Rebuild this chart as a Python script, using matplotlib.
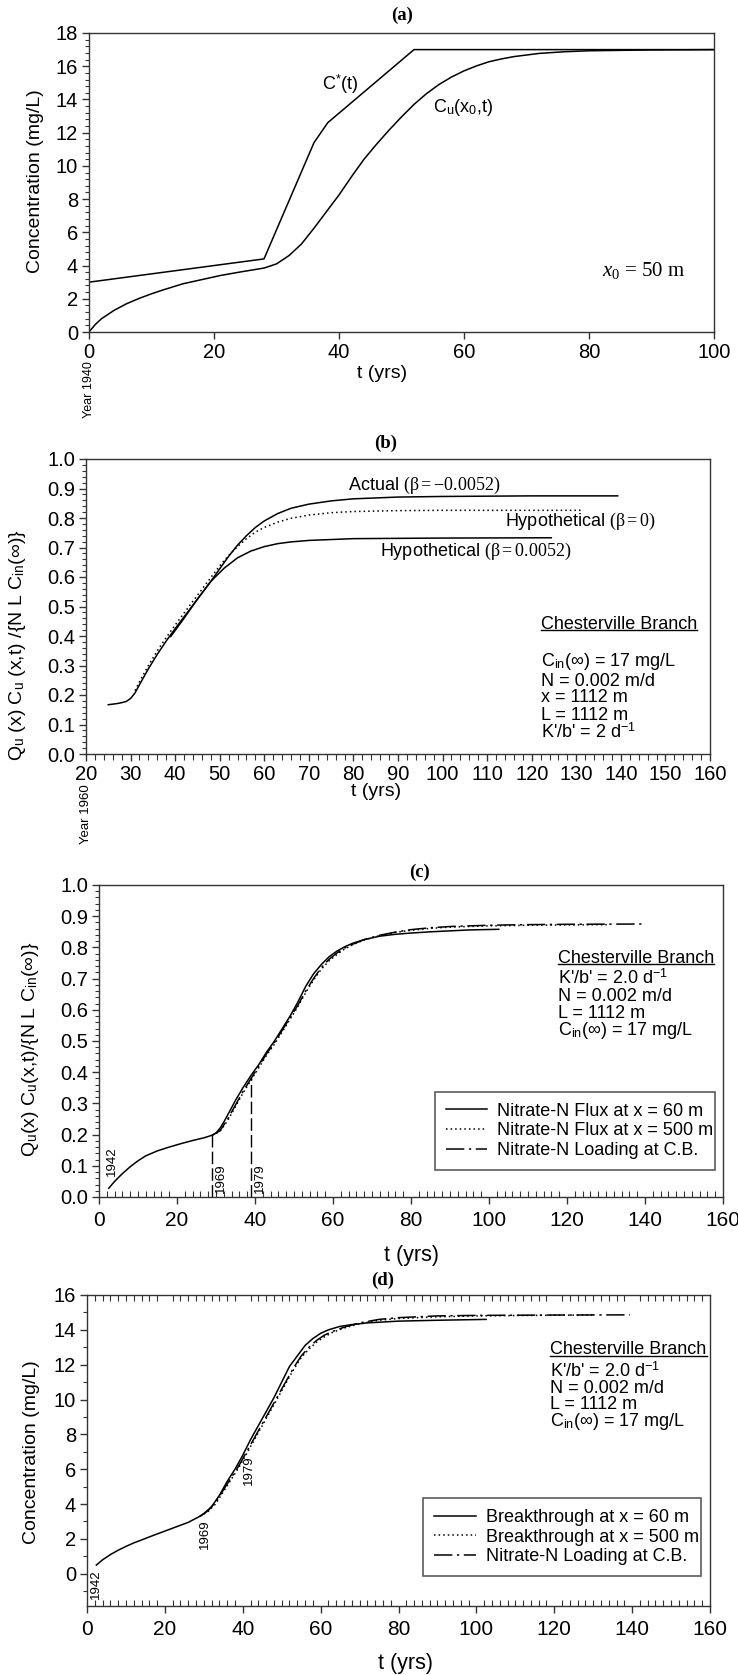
import matplotlib
matplotlib.use('Agg')
import matplotlib.pyplot as plt
from matplotlib.ticker import MultipleLocator
from matplotlib.lines import Line2D

NARROW = ['Liberation Sans Narrow', 'Liberation Sans', 'DejaVu Sans']
SANS = ['Liberation Sans', 'DejaVu Sans']
SERIF = ['Liberation Serif', 'DejaVu Serif']

plt.rcParams['font.family'] = NARROW
plt.rcParams['mathtext.fontset'] = 'custom'
plt.rcParams['mathtext.rm'] = 'Liberation Serif'
plt.rcParams['mathtext.it'] = 'Liberation Serif:italic'
plt.rcParams['mathtext.bf'] = 'Liberation Serif:bold'

# ---- panel (a) : concentration at x0 = 50 m
a_t_cstar = [0, 28, 36, 38.2, 52, 100]
a_cstar = [3.0, 4.4, 11.4, 12.6, 17.0, 17.0]
a_t_cu = [0, 1, 2, 4, 6, 8, 10, 12, 15, 18, 21, 24, 28, 30, 32, 34, 36, 38, 40, 42, 44,
          46, 48, 50, 52, 54, 56, 58, 60, 62, 64, 66, 68, 72, 76, 80, 90, 100]
a_cu = [0.0, 0.45, 0.8, 1.3, 1.7, 2.02, 2.3, 2.55, 2.9, 3.15, 3.4, 3.6, 3.85, 4.1, 4.6, 5.3,
        6.25, 7.25, 8.25, 9.35, 10.4, 11.3, 12.15, 12.95, 13.7, 14.35, 14.9, 15.35, 15.72,
        16.02, 16.27, 16.44, 16.58, 16.77, 16.87, 16.93, 16.98, 17.0]

# ---- panel (b) : normalized flux, three beta values
b_t_act = [25, 27, 28, 29, 30, 31, 32, 33, 34, 36, 38, 40, 42, 44, 46, 48, 50, 52, 54, 56,
           58, 60, 63, 66, 70, 75, 80, 90, 100, 120, 139.3]
b_act = [0.167, 0.171, 0.174, 0.178, 0.188, 0.207, 0.235, 0.262, 0.289, 0.338, 0.383, 0.425,
         0.465, 0.505, 0.545, 0.585, 0.628, 0.67, 0.708, 0.74, 0.768, 0.79, 0.815, 0.833,
         0.847, 0.858, 0.865, 0.871, 0.873, 0.875, 0.875]
b_t_zero = [31, 32, 34, 36, 38, 40, 42, 44, 46, 48, 50, 52, 54, 56, 58, 60, 63, 66, 70, 75,
            80, 90, 100, 131]
b_zero = [0.215, 0.245, 0.3, 0.35, 0.395, 0.437, 0.478, 0.518, 0.558, 0.598, 0.638, 0.673,
          0.703, 0.73, 0.752, 0.768, 0.786, 0.799, 0.81, 0.818, 0.822, 0.825, 0.826, 0.826]
b_t_pos = [39, 42, 45, 48, 51, 54, 57, 60, 63, 66, 70, 80, 100, 124.4]
b_pos = [0.398, 0.46, 0.525, 0.585, 0.63, 0.665, 0.688, 0.703, 0.713, 0.719, 0.724, 0.73,
         0.732, 0.733]

# ---- panel (c) : normalized flux at two distances and loading
c_t_60 = [2.5, 4, 6, 8, 10, 12, 15, 18, 21, 24, 27, 29, 30, 31, 32, 33, 35, 37, 39, 41, 43,
          45, 47, 49, 51, 53, 55, 57, 59, 61, 63, 65, 68, 72, 76, 80, 85, 90, 95, 102.5]
c_60 = [0.028, 0.05, 0.075, 0.097, 0.116, 0.132, 0.148, 0.16, 0.171, 0.181, 0.19, 0.198,
        0.205, 0.22, 0.24, 0.263, 0.31, 0.352, 0.39, 0.425, 0.465, 0.5, 0.54, 0.58, 0.625,
        0.675, 0.715, 0.745, 0.77, 0.788, 0.802, 0.813, 0.825, 0.836, 0.842, 0.846, 0.85,
        0.853, 0.856, 0.858]
c_t_500 = [29, 31, 33, 35, 37, 39, 41, 43, 45, 47, 49, 51, 53, 55, 57, 59, 61, 63, 65, 68,
           72, 76, 80, 85, 90, 100, 110, 120, 131]
c_500 = [0.198, 0.21, 0.245, 0.29, 0.335, 0.375, 0.415, 0.455, 0.49, 0.53, 0.57, 0.61,
         0.655, 0.695, 0.73, 0.757, 0.777, 0.795, 0.808, 0.824, 0.838, 0.848, 0.855, 0.861,
         0.865, 0.869, 0.871, 0.872, 0.873]
c_t_load = [29, 31, 33, 35, 37, 39, 41, 43, 45, 47, 49, 51, 53, 55, 57, 59, 61, 63, 65, 68,
            72, 76, 80, 85, 90, 100, 110, 120, 140]
c_load = [0.198, 0.212, 0.25, 0.295, 0.34, 0.38, 0.42, 0.46, 0.495, 0.535, 0.575, 0.615,
          0.66, 0.7, 0.735, 0.762, 0.782, 0.798, 0.81, 0.825, 0.839, 0.849, 0.857, 0.863,
          0.867, 0.871, 0.873, 0.874, 0.875]
c_mark_years = [29, 39]
c_mark_tops = [0.198, 0.385]

# ---- panel (d) : breakthrough concentration
d_t_60 = [2.4, 4, 6, 8, 10, 12, 14, 17, 20, 23, 26, 29, 30, 32, 34, 36, 38, 40, 42, 44, 46,
          48, 50, 52, 54, 56, 58, 60, 62, 65, 68, 72, 76, 80, 90, 102.5]
d_60 = [0.5, 0.8, 1.1, 1.35, 1.57, 1.77, 1.94, 2.2, 2.45, 2.7, 2.95, 3.3, 3.45, 3.85, 4.5,
        5.3, 6.0, 6.8, 7.7, 8.5, 9.3, 10.1, 11.0, 11.9, 12.5, 13.1, 13.5, 13.8, 14.0, 14.2,
        14.3, 14.4, 14.45, 14.5, 14.55, 14.6]
d_t_500 = [29, 31, 33, 35, 37, 39, 41, 43, 45, 47, 49, 51, 53, 55, 57, 59, 61, 63, 66, 70,
           75, 80, 90, 100, 115, 130]
d_500 = [3.3, 3.55, 4.0, 4.7, 5.4, 6.1, 6.9, 7.7, 8.5, 9.3, 10.1, 10.9, 11.7, 12.4, 12.9,
         13.3, 13.6, 13.85, 14.1, 14.35, 14.55, 14.65, 14.75, 14.8, 14.83, 14.85]
d_t_load = [29, 31, 33, 35, 37, 39, 41, 43, 45, 47, 49, 51, 53, 55, 57, 59, 61, 63, 66, 70,
            75, 80, 90, 100, 120, 139.4]
d_load = [3.3, 3.6, 4.1, 4.8, 5.5, 6.2, 7.0, 7.8, 8.6, 9.4, 10.2, 11.0, 11.8, 12.5, 13.0,
          13.4, 13.7, 13.9, 14.15, 14.4, 14.6, 14.7, 14.8, 14.83, 14.85, 14.86]

cb_params_b = ['Chesterville Branch', r'C$_\mathregular{in}$(∞) = 17 mg/L', 'N = 0.002 m/d',
               'x = 1112 m', 'L = 1112 m', r"K'/b' = 2 d$^\mathregular{-1}$"]
cb_params_cd = ['Chesterville Branch', r"K'/b' = 2.0 d$^\mathregular{-1}$", 'N = 0.002 m/d',
                'L = 1112 m', r'C$_\mathregular{in}$(∞) = 17 mg/L']

W, H = 738, 1675
LOADING_DASH = (0, (12, 3, 1.5, 3))
DOTS = (0, (1, 2))
FS = 13      # annotation / legend text
TFS = 14.5   # tick labels


def rect(l, r, t, b):
  return [l / W, 1 - b / H, (r - l) / W, (b - t) / H]


def style_axes(ax, xmaj, xmin, ymaj, ymin, xminor_dir='out', top_minor=False):
  for s in ax.spines.values():
    s.set_color('#333333')
    s.set_linewidth(1.0)
  ax.xaxis.set_major_locator(MultipleLocator(xmaj))
  ax.yaxis.set_major_locator(MultipleLocator(ymaj))
  if xmin:
    ax.xaxis.set_minor_locator(MultipleLocator(xmin))
  if ymin:
    ax.yaxis.set_minor_locator(MultipleLocator(ymin))
  ax.tick_params(axis='both', which='major', direction='out', length=5, width=1.0,
                 labelsize=TFS, color='#333333', pad=3)
  ax.tick_params(axis='y', which='minor', direction='out', length=3, width=0.8, color='#333333')
  ax.tick_params(axis='x', which='minor', direction=xminor_dir, length=4, width=0.8,
                 color='#333333', top=top_minor)


def underline(fig, txt):
  fig.canvas.draw()
  bb = txt.get_window_extent()
  y = (bb.y0 + 2.5) / fig.bbox.height
  fig.add_artist(Line2D([bb.x0 / fig.bbox.width, bb.x1 / fig.bbox.width], [y, y],
                        transform=fig.transFigure, color='black', lw=1.0))


def param_block(ax, x, ys, lines):
  txts = []
  for y, s in zip(ys, lines):
    txts.append(ax.text(x, y, s, fontsize=FS, ha='left', va='center'))
  return txts


def add_legend(ax, anchor):
  leg = ax.legend(loc='upper left', bbox_to_anchor=anchor, mode='expand',
                  fontsize=FS, frameon=True, fancybox=False, edgecolor='#333333',
                  borderpad=0.6, labelspacing=0.15, handlelength=2.3, handletextpad=0.55,
                  borderaxespad=0)
  leg.get_frame().set_linewidth(1.2)


fig = plt.figure(figsize=(W / 100, H / 100), dpi=100)

# ---------------- (a)
ax = fig.add_axes(rect(89, 714, 33, 332))
ax.plot(a_t_cstar, a_cstar, color='black', lw=1.1)
ax.plot(a_t_cu, a_cu, color='black', lw=1.1)
ax.set_xlim(0, 100)
ax.set_ylim(0, 18)
style_axes(ax, 20, None, 2, 0.4)
ax.set_ylabel('Concentration (mg/L)', family=SANS, fontsize=14)
ax.yaxis.set_label_coords(-0.072, 0.505)
ax.text(37.3, 14.9, r'C$^\mathregular{*}$(t)', fontsize=FS, va='center')
ax.text(55, 13.5, r'C$_\mathregular{u}$(x$_\mathregular{0}$,t)', fontsize=FS, va='center')
ax.text(82, 3.7, r'$x_{\mathit{0}}$ = 50 m', family=SERIF, fontsize=15, va='center')
fig.text(402 / W, 1 - 15 / H, '(a)', family=SERIF, weight='bold', fontsize=13.5,
         ha='center', va='center')
fig.text(382 / W, 1 - 374 / H, 't (yrs)', fontsize=14, ha='center', va='center')
fig.text(89 / W, 1 - 390 / H, 'Year 1940', family=SANS, fontsize=9, rotation=90,
         ha='center', va='center')

# ---------------- (b)
ax = fig.add_axes(rect(86, 710, 459, 754))
ax.plot(b_t_act, b_act, color='black', lw=1.1)
ax.plot(b_t_zero, b_zero, color='black', lw=1.1, linestyle=DOTS)
ax.plot(b_t_pos, b_pos, color='black', lw=1.1)
ax.set_xlim(20, 160)
ax.set_ylim(0, 1.0)
style_axes(ax, 10, 2, 0.1, 0.02)
ax.yaxis.set_major_formatter(plt.FormatStrFormatter('%.1f'))
ax.set_ylabel(r'Q$_\mathregular{u}$ (x) C$_\mathregular{u}$ (x,t) /{N L C$_\mathregular{in}$(∞)}',
              family=SANS, fontsize=14)
ax.yaxis.set_label_coords(-0.093, 0.37)
ax.text(78.8, 0.912, r'Actual $\mathrm{(β = {-}0.0052)}$', fontsize=FS, va='center')
ax.text(114, 0.787, r'Hypothetical $\mathrm{(β = 0)}$', fontsize=FS, va='center')
ax.text(86, 0.686, r'Hypothetical $\mathrm{(β = 0.0052)}$', fontsize=FS, va='center')
tb = param_block(ax, 122, [0.44, 0.313, 0.247, 0.19, 0.132, 0.073], cb_params_b)
fig.text(386 / W, 1 - 443 / H, '(b)', family=SERIF, weight='bold', fontsize=13.5,
         ha='center', va='center')
fig.text(376 / W, 1 - 792 / H, 't (yrs)', fontsize=14, ha='center', va='center')
fig.text(86 / W, 1 - 814 / H, 'Year 1960', family=SANS, fontsize=9.5, rotation=90,
         ha='center', va='center')

# ---------------- (c)
ax = fig.add_axes(rect(99, 723, 885, 1197))
ax.plot(c_t_60, c_60, color='black', lw=1.1, label='Nitrate-N Flux at x = 60 m')
ax.plot(c_t_500, c_500, color='black', lw=1.1, linestyle=DOTS, label='Nitrate-N Flux at x = 500 m')
ax.plot(c_t_load, c_load, color='black', lw=1.1, linestyle=LOADING_DASH,
        label='Nitrate-N Loading at C.B.')
ax.vlines(c_mark_years, 0, c_mark_tops, colors='black', lw=1.0, linestyles=[(0, (9, 3))])
ax.set_xlim(0, 160)
ax.set_ylim(0, 1.0)
style_axes(ax, 20, 2, 0.1, 0.02, xminor_dir='in')
ax.yaxis.set_major_formatter(plt.FormatStrFormatter('%.1f'))
ax.tick_params(axis='x', which='major', labelsize=15, pad=5)
ax.set_ylabel(r'Q$_\mathregular{u}$(x) C$_\mathregular{u}$(x,t)/{N L C$_\mathregular{in}$(∞)}',
              family=SANS, fontsize=14)
ax.yaxis.set_label_coords(-0.093, 0.474)
tc = param_block(ax, 117.6, [0.766, 0.70, 0.642, 0.589, 0.535], cb_params_cd)
ax.text(3.2, 0.115, '1942', family=SANS, fontsize=9.5, rotation=90, ha='center', va='center')
ax.text(31.3, 0.06, '1969', family=SANS, fontsize=9.5, rotation=90, ha='center', va='center')
ax.text(41.2, 0.06, '1979', family=SANS, fontsize=9.5, rotation=90, ha='center', va='center')
add_legend(ax, (0.538, 0.0, 0.449, 0.337))
fig.text(419 / W, 1 - 872 / H, '(c)', family=SERIF, weight='bold', fontsize=13.5,
         ha='center', va='center')
fig.text(411 / W, 1 - 1255 / H, 't (yrs)', fontsize=15.5, ha='center', va='center')

# ---------------- (d)
ax = fig.add_axes(rect(87, 710, 1295, 1606))
ax.plot(d_t_60, d_60, color='black', lw=1.1, label='Breakthrough at x = 60 m')
ax.plot(d_t_500, d_500, color='black', lw=1.1, linestyle=DOTS, label='Breakthrough at x = 500 m')
ax.plot(d_t_load, d_load, color='black', lw=1.1, linestyle=LOADING_DASH,
        label='Nitrate-N Loading at C.B.')
ax.set_xlim(0, 160)
ax.set_ylim(-1.85, 16)
style_axes(ax, 20, 2, 2, 1, xminor_dir='in', top_minor=True)
ax.tick_params(axis='x', which='major', labelsize=15, pad=5)
ax.set_ylabel('Concentration (mg/L)', family=SANS, fontsize=14)
ax.yaxis.set_label_coords(-0.075, 0.495)
td = param_block(ax, 119, [12.85, 11.6, 10.65, 9.7, 8.73], cb_params_cd)
ax.text(2.4, -0.6, '1942', family=SANS, fontsize=9.5, rotation=90, ha='center', va='center')
ax.text(30.2, 2.3, '1969', family=SANS, fontsize=9.5, rotation=90, ha='center', va='center')
ax.text(41.5, 5.95, '1979', family=SANS, fontsize=9.5, rotation=90, ha='center', va='center')
add_legend(ax, (0.540, 0.0, 0.445, 0.347))
fig.text(383 / W, 1 - 1280 / H, '(d)', family=SERIF, weight='bold', fontsize=13.5,
         ha='center', va='center')
fig.text(405 / W, 1 - 1663 / H, 't (yrs)', fontsize=15.5, ha='center', va='center')

for t in (tb[0], tc[0], td[0]):
  underline(fig, t)

fig.savefig('out.png', dpi=100)
